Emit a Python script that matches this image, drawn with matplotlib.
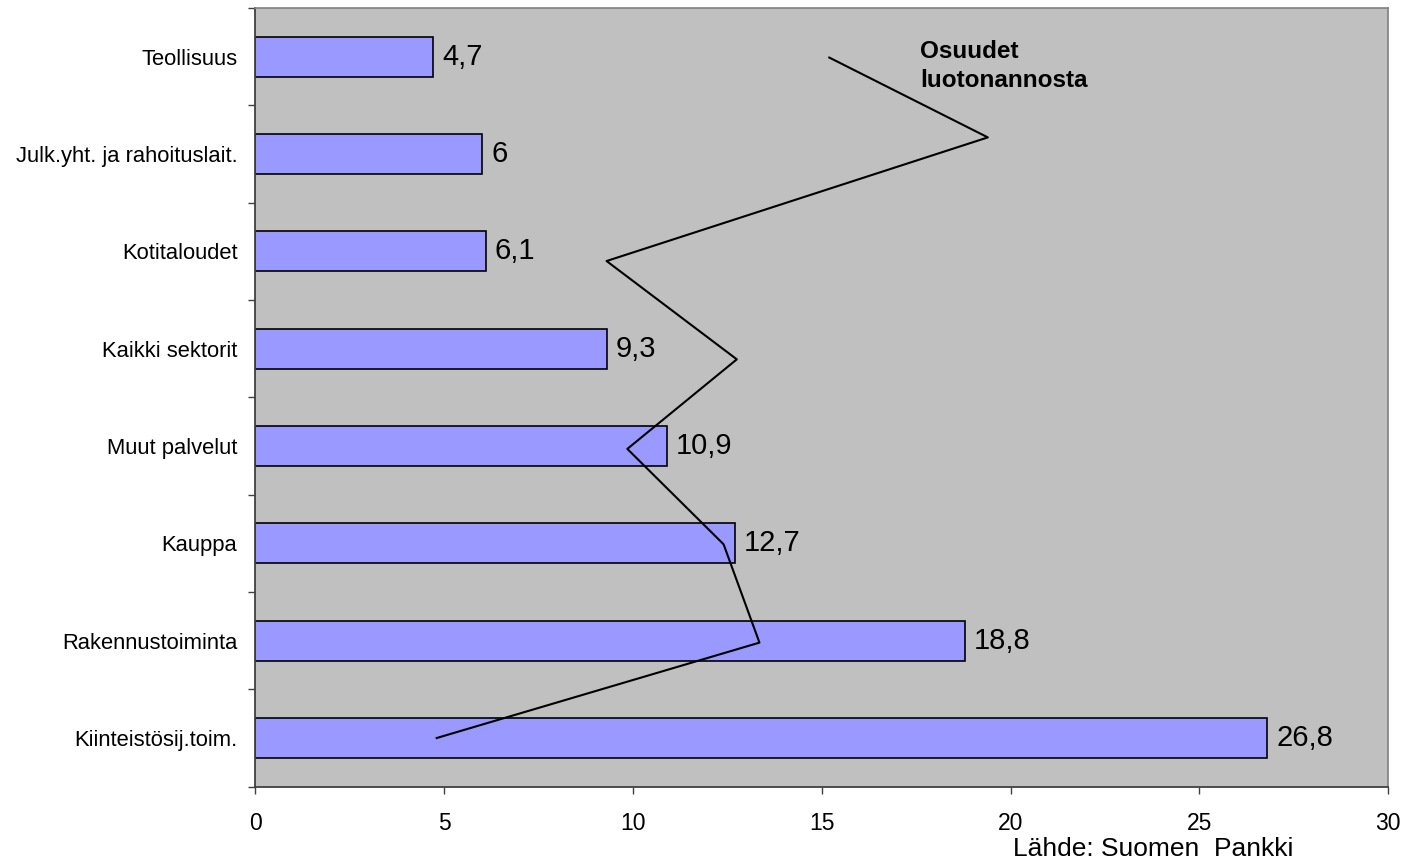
#!/usr/bin/env python3
"""Luottokannan kasvu toimialoittain, osuudet luotonannosta viivana."""

import matplotlib

matplotlib.use("Agg")
import matplotlib.pyplot as plt
import numpy as np

plt.rcParams["font.family"] = ["Liberation Sans", "DejaVu Sans"]

# categories from bottom to top
CATEGORIES = [
    "Kiinteistösij.toim.",
    "Rakennustoiminta",
    "Kauppa",
    "Muut palvelut",
    "Kaikki sektorit",
    "Kotitaloudet",
    "Julk.yht. ja rahoituslait.",
    "Teollisuus",
]
GROWTH = [26.8, 18.8, 12.7, 10.9, 9.3, 6.1, 6.0, 4.7]

# share-of-lending series (x value, vertical position on category scale)
SHARE_X = [4.8, 13.35, 12.4, 9.85, 12.75, 9.3, 19.4, 15.2]
SHARE_Y = [0.0, 0.98, 1.99, 2.97, 3.89, 4.9, 6.17, 6.99]

X_TICKS = [0, 5, 10, 15, 20, 25, 30]


def fmt(v: float) -> str:
    s = f"{v:g}"
    return s.replace(".", ",")


def main() -> None:
    fig = plt.figure(figsize=(14.1, 8.61), dpi=100)
    ax = fig.add_axes([0.1812, 0.0863, 0.8032, 0.9045])
    ax.set_facecolor("#C0C0C0")

    y = np.arange(len(CATEGORIES))
    ax.barh(y, GROWTH, height=0.41, color="#9999FF", edgecolor="black", linewidth=1.2, zorder=2)
    for yi, v in zip(y, GROWTH):
        ax.annotate(
            fmt(v),
            xy=(v, yi),
            xytext=(6.5, 0),
            textcoords="offset points",
            va="center",
            ha="left",
            fontsize=21,
            zorder=3,
        )

    ax.plot(SHARE_X, SHARE_Y, color="black", linewidth=1.5, zorder=4)
    ax.text(
        17.6, 6.9, "Osuudet\nluotonannosta",
        fontsize=17.5, fontweight="bold", ha="left", va="center", linespacing=1.35,
    )

    ax.set_xlim(0, 30)
    ax.set_ylim(-0.5, len(CATEGORIES) - 0.5)
    ax.set_xticks(X_TICKS)
    ax.set_xticklabels([str(t) for t in X_TICKS], fontsize=16.5)
    ax.tick_params(axis="x", direction="out", length=5, width=1, color="#404040", pad=13)

    ax.set_yticks(y)
    ax.set_yticklabels(CATEGORIES, fontsize=15.8)
    ax.set_yticks(np.arange(-0.5, len(CATEGORIES)), minor=True)
    ax.tick_params(axis="y", which="major", length=0, pad=13)
    ax.tick_params(axis="y", which="minor", direction="out", length=5, width=1, color="#404040")

    for side in ("left", "bottom"):
        ax.spines[side].set_color("#404040")
        ax.spines[side].set_linewidth(1.3)
    for side in ("top", "right"):
        ax.spines[side].set_color("#808080")
        ax.spines[side].set_linewidth(1.2)

    fig.text(1013 / 1410, 1 - 856 / 861, "Lähde: Suomen  Pankki", fontsize=19, ha="left", va="baseline")

    fig.savefig("out.png", dpi=100)
    plt.close(fig)


if __name__ == "__main__":
    main()
